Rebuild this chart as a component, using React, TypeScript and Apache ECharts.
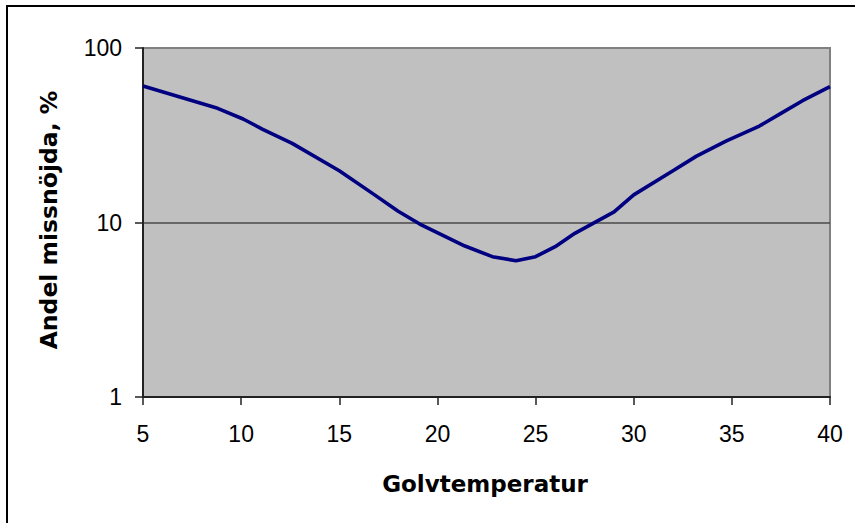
import React, { useEffect, useRef } from "react";
import * as echarts from "echarts";

const temperatures = [5, 8.8, 10.1, 11.1, 12.6, 15, 16.8, 18, 19.1, 21.4, 22.8, 24, 25, 26, 27, 29, 30, 32, 33.2, 34.7, 36.4, 37.5, 38.6, 40];
const dissatisfied = [60.6, 45.1, 39.2, 34.2, 28.4, 19.8, 14.4, 11.6, 9.8, 7.33, 6.37, 6.04, 6.37, 7.27, 8.67, 11.5, 14.4, 19.8, 24.0, 29.3, 35.7, 42.2, 49.9, 60];
const xTitle = "Golvtemperatur";
const yTitle = "Andel missnöjda, %";

export default function App() {
  const ref = useRef<HTMLDivElement>(null);
  useEffect(() => {
    if (!ref.current) return;
    const chart = echarts.init(ref.current, null, { renderer: "svg" });
    const data = temperatures.map((t, i) => [t, dissatisfied[i]]);
    chart.setOption({
      animation: false,
      backgroundColor: "#ffffff",
      grid: {
        left: 143,
        top: 48,
        width: 687,
        height: 349,
        show: true,
        backgroundColor: "#C0C0C0",
        borderColor: "#808080",
        borderWidth: 2,
      },
      xAxis: {
        type: "value",
        min: 5,
        max: 40,
        interval: 5,
        axisLine: { show: true, lineStyle: { color: "#222", width: 2 } },
        axisTick: { show: true, inside: false, length: 8, lineStyle: { color: "#222", width: 1.5 } },
        axisLabel: { margin: 25, color: "#000", fontSize: 23, fontFamily: "Liberation Sans, Arial, sans-serif" },
        splitLine: { show: false },
      },
      yAxis: {
        type: "log",
        logBase: 10,
        min: 1,
        max: 100,
        axisLine: { show: true, lineStyle: { color: "#222", width: 2 } },
        axisTick: { show: true, inside: false, length: 8, lineStyle: { color: "#222", width: 1.5 } },
        axisLabel: { margin: 21, color: "#000", fontSize: 23, fontFamily: "Liberation Sans, Arial, sans-serif" },
        splitLine: { show: true, lineStyle: { color: ["#808080", "#4a4a4a", "#808080"], width: 1.6 } },
        minorTick: { show: false },
      },
      series: [
        {
          type: "line",
          data,
          showSymbol: false,
          symbol: "none",
          smooth: false,
          lineStyle: { color: "#000080", width: 3.6 },
        },
      ],
      graphic: [
        {
          type: "rect",
          shape: { x: 7, y: 6, width: 900, height: 600 },
          style: { fill: "none", stroke: "#000", lineWidth: 2 },
          silent: true,
        },
        {
          type: "text",
          x: 485,
          y: 484,
          style: {
            text: xTitle,
            fontSize: 23,
            fontWeight: "bold",
            fontFamily: "DejaVu Sans, sans-serif",
            fill: "#000",
            align: "center",
            verticalAlign: "middle",
          },
        },
        {
          type: "text",
          x: 49,
          y: 220,
          rotation: Math.PI / 2,
          style: {
            text: yTitle,
            fontSize: 23.5,
            fontWeight: "bold",
            fontFamily: "DejaVu Sans, sans-serif",
            fill: "#000",
            align: "center",
            verticalAlign: "middle",
          },
        },
      ],
    });
    return () => chart.dispose();
  }, []);
  return (
    <div
      ref={ref}
      style={{ position: "fixed", left: 0, top: 0, width: 855, height: 523, background: "#fff" }}
    />
  );
}
